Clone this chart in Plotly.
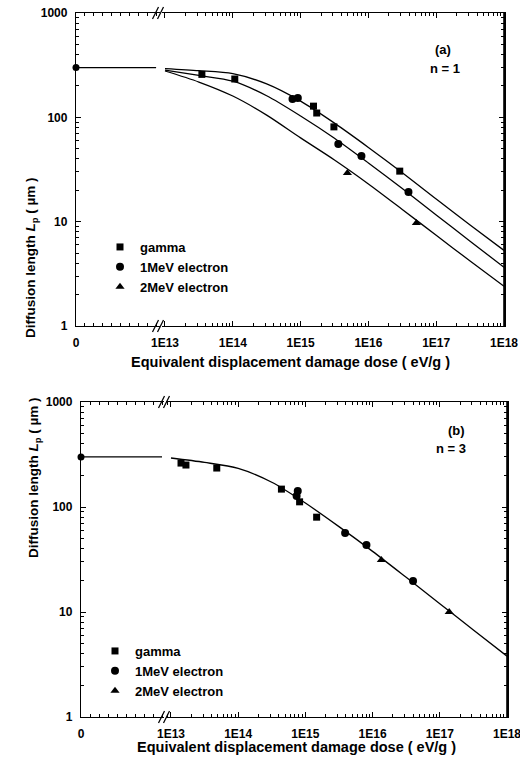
import plotly.graph_objects as go

# ---------------- data ----------------
curve_dose = [1e13, 3.16e13, 1e14, 3.16e14, 1e15, 3.16e15, 1e16, 3.16e16, 1e17, 3.16e17, 1e18]
top_gamma_curve = [293, 280, 262, 209, 143, 88, 51.5, 29.5, 16.5, 9.3, 5.3]
top_e1_curve = [284, 252, 222, 161, 103, 63, 36.5, 20.8, 11.6, 6.5, 3.65]
top_e2_curve = [278, 218, 160, 105, 63.5, 39, 23, 13.1, 7.4, 4.2, 2.4]
bot_curve = [293, 266, 233, 172, 109, 65, 37.8, 21.4, 12.0, 6.75, 3.8]

flat_dose = [0, 0.9e13]
flat_L = [300, 300]
zero_dose = [0]
zero_L = [300]

top_gamma_dose = [3.5e13, 1.07e14, 1.55e15, 1.73e15, 3.1e15, 2.9e16]
top_gamma_L = [258, 233, 128, 110, 81, 30.5]
top_e1_dose = [7.6e14, 9.1e14, 3.6e15, 7.9e15, 3.9e16]
top_e1_L = [150, 153, 55.5, 42.6, 19.2]
top_e2_dose = [4.9e15, 5.1e16]
top_e2_L = [29.2, 9.7]

bot_gamma_dose = [1.41e13, 1.67e13, 4.8e13, 4.4e14, 8.2e14, 1.47e15]
bot_gamma_L = [262, 251, 235, 148, 112, 80]
bot_e1_dose = [7.7e14, 7.4e14, 3.9e15, 8.1e15, 4.0e16]
bot_e1_L = [142, 127, 56.5, 43.4, 19.7]
bot_e2_dose = [1.35e16, 1.38e17]
bot_e2_L = [31.3, 10]

series_names = ["gamma", "1MeV electron", "2MeV electron"]
x_tick_text = ["1E13", "1E14", "1E15", "1E16", "1E17", "1E18"]
x_tick_vals = [1e13, 1e14, 1e15, 1e16, 1e17, 1e18]
y_tick_vals = [1, 10, 100, 1000]
y_tick_text = ["1", "10", "100", "1000"]

# ---------------- layout helpers ----------------
W, H = 520, 769
FONT = "Liberation Sans"


def xd(a, b):
    return [a / W, b / W]


def yd(top, bottom):
    return [(H - bottom) / H, (H - top) / H]


def px_x(v):
    return v / W


def px_y(v):
    return (H - v) / H


fig = go.Figure()
line_style = dict(color="black", width=1.3)
symbols = ["square", "circle", "triangle-up"]
msizes = [7, 8, 8]

# ---- top panel: linear segment (x, y) and log segment (x2, y3) ----
for c in [top_gamma_curve, top_e1_curve, top_e2_curve]:
    fig.add_trace(go.Scatter(x=curve_dose, y=c, mode="lines", line=dict(shape="spline", smoothing=0.8, **line_style),
                             xaxis="x2", yaxis="y3", showlegend=False, hoverinfo="skip"))
fig.add_trace(go.Scatter(x=flat_dose, y=flat_L, mode="lines", line=line_style,
                         xaxis="x", yaxis="y", showlegend=False))
fig.add_trace(go.Scatter(x=zero_dose, y=zero_L, mode="markers", cliponaxis=False,
                         marker=dict(symbol="circle", size=7, color="black"),
                         xaxis="x", yaxis="y", showlegend=False))
for name, sym, ms, xs, ys in zip(series_names, symbols, msizes,
                                 [top_gamma_dose, top_e1_dose, top_e2_dose],
                                 [top_gamma_L, top_e1_L, top_e2_L]):
    fig.add_trace(go.Scatter(x=xs, y=ys, mode="markers", name=name,
                             marker=dict(symbol=sym, size=ms, color="black"),
                             xaxis="x2", yaxis="y3", legend="legend"))

# ---- bottom panel: linear segment (x3, y2) and log segment (x4, y4) ----
fig.add_trace(go.Scatter(x=curve_dose, y=bot_curve, mode="lines", line=dict(shape="spline", smoothing=0.8, **line_style),
                         xaxis="x4", yaxis="y4", showlegend=False))
fig.add_trace(go.Scatter(x=flat_dose, y=flat_L, mode="lines", line=line_style,
                         xaxis="x3", yaxis="y2", showlegend=False))
fig.add_trace(go.Scatter(x=zero_dose, y=zero_L, mode="markers", cliponaxis=False,
                         marker=dict(symbol="circle", size=7, color="black"),
                         xaxis="x3", yaxis="y2", showlegend=False))
for name, sym, ms, xs, ys in zip(series_names, symbols, msizes,
                                 [bot_gamma_dose, bot_e1_dose, bot_e2_dose],
                                 [bot_gamma_L, bot_e1_L, bot_e2_L]):
    fig.add_trace(go.Scatter(x=xs, y=ys, mode="markers", name=name,
                             marker=dict(symbol=sym, size=ms, color="black"),
                             xaxis="x4", yaxis="y4", legend="legend2"))

tickfont = dict(family=FONT, size=12, color="black", weight="bold")
log_minor = [m * 10 ** e for e in range(12, 18) for m in range(2, 10)]
y_minor = [m * 10 ** e for e in range(0, 3) for m in range(2, 10)]

base = dict(showline=True, linecolor="black", linewidth=1.3, showgrid=False, automargin=False,
            zeroline=False, ticks="inside", ticklen=5, tickcolor="black", tickwidth=1.2,
            tickfont=tickfont, ticklabelstandoff=5)
xcommon = dict(mirror="ticks", ticklabeloverflow="allow", **base)
ycommon = dict(mirror=False, **base)

lin_minor = dict(tickmode="linear", tick0=0, dtick=1e12, ticks="inside", ticklen=3, tickcolor="black")
logx_minor = dict(tickmode="array", tickvals=log_minor, ticks="inside", ticklen=3, tickcolor="black")
logy_minor = dict(tickmode="array", tickvals=y_minor, ticks="inside", ticklen=3, tickcolor="black")

top_dom = yd(13, 326)
bot_dom = yd(402, 717)

# right-hand frame axes of the log segments (same log scale as the left axes)
right_y = dict(type="log", range=[0, 3], side="right", showline=True, linecolor="black", linewidth=1.6,
               showticklabels=False, ticks="inside", ticklen=5, tickcolor="black", tickwidth=1.2,
               tickmode="array", tickvals=y_tick_vals, minor=logy_minor,
               showgrid=False, zeroline=False, automargin=False, mirror=False)

fig.update_layout(
    width=W, height=H, margin=dict(l=0, r=0, t=0, b=0, autoexpand=False),
    paper_bgcolor="white", plot_bgcolor="rgba(0,0,0,0)",
    xaxis=dict(domain=xd(76, 160), range=[0, 1e13 * (160 - 76) / 89], anchor="y",
               tickmode="array", tickvals=[0], ticktext=["0"], minor=lin_minor, **xcommon),
    xaxis2=dict(domain=xd(162, 504), type="log", range=[13 - 3 / 68, 18], anchor="y3",
                tickmode="array", tickvals=x_tick_vals, ticktext=x_tick_text, minor=logx_minor, **xcommon),
    yaxis=dict(domain=top_dom, type="log", range=[0, 3], anchor="x", side="left",
               tickmode="array", tickvals=y_tick_vals, ticktext=y_tick_text, minor=logy_minor, **ycommon),
    yaxis3=dict(domain=top_dom, anchor="x2", **right_y),
    xaxis3=dict(domain=xd(81, 164), range=[0, 1e13 * (164 - 81) / 90], anchor="y2",
                tickmode="array", tickvals=[0], ticktext=["0"], minor=lin_minor, **xcommon),
    xaxis4=dict(domain=xd(166, 507), type="log", range=[13 - 5 / 67.4, 18], anchor="y4",
                tickmode="array", tickvals=x_tick_vals, ticktext=x_tick_text, minor=logx_minor, **xcommon),
    yaxis2=dict(domain=bot_dom, type="log", range=[0, 3], anchor="x3", side="left",
                tickmode="array", tickvals=y_tick_vals, ticktext=y_tick_text, minor=logy_minor, **ycommon),
    yaxis4=dict(domain=bot_dom, anchor="x4", **right_y),
    legend=dict(x=px_x(100), y=px_y(232), xanchor="left", yanchor="top", bgcolor="rgba(0,0,0,0)",
                font=dict(family=FONT, size=13, color="black", weight="bold"), tracegroupgap=0),
    legend2=dict(x=px_x(95), y=px_y(636), xanchor="left", yanchor="top", bgcolor="rgba(0,0,0,0)",
                 font=dict(family=FONT, size=13, color="black", weight="bold"), tracegroupgap=0),
)

# extra right frame line in paper coordinates (backup for the axis line)
for xr_px, (ytop, ybot) in [(504, (13, 326)), (507, (402, 717))]:
    fig.add_shape(type="line", xref="paper", yref="paper", layer="above",
                  x0=px_x(xr_px), x1=px_x(xr_px), y0=px_y(ybot), y1=px_y(ytop),
                  line=dict(color="black", width=1.6))

ann_font = dict(family=FONT, size=13, color="black", weight="bold")
title_font = dict(family=FONT, size=14.5, color="black", weight="bold")
ytitle_font = dict(family=FONT, size=13.5, color="black", weight="bold")
annotations = [
    dict(text="(a)", x=px_x(453), y=px_y(40)),
    dict(text="n = 1", x=px_x(462), y=px_y(59)),
    dict(text="(b)", x=px_x(467), y=px_y(430)),
    dict(text="n = 3", x=px_x(468), y=px_y(448)),
]
for a in annotations:
    fig.add_annotation(xref="paper", yref="paper", showarrow=False, font=ann_font, **a)

xtitle = "Equivalent displacement damage dose ( eV/g )"
ytitle = "Diffusion length <i>L</i><sub>p</sub> ( µm )"
fig.add_annotation(text=xtitle, xref="paper", yref="paper", x=px_x(290), y=px_y(362),
                   showarrow=False, font=title_font)
fig.add_annotation(text=xtitle, xref="paper", yref="paper", x=px_x(296), y=px_y(757),
                   showarrow=False, font=title_font)
fig.add_annotation(text=ytitle, xref="paper", yref="paper", x=px_x(21), y=px_y(175),
                   showarrow=False, textangle=-90, font=ytitle_font)
fig.add_annotation(text=ytitle, xref="paper", yref="paper", x=px_x(24), y=px_y(560),
                   showarrow=False, textangle=-90, font=ytitle_font)

# axis-break marks "//"
for bx, ys in [(158, [13, 326]), (164, [402, 717])]:
    for yy in ys:
        for dx in (-2.5, 2.5):
            fig.add_shape(type="line", xref="paper", yref="paper",
                          x0=px_x(bx + dx - 3), y0=px_y(yy + 6), x1=px_x(bx + dx + 3), y1=px_y(yy - 6),
                          line=dict(color="black", width=1.3))

fig.write_html("out.html")
